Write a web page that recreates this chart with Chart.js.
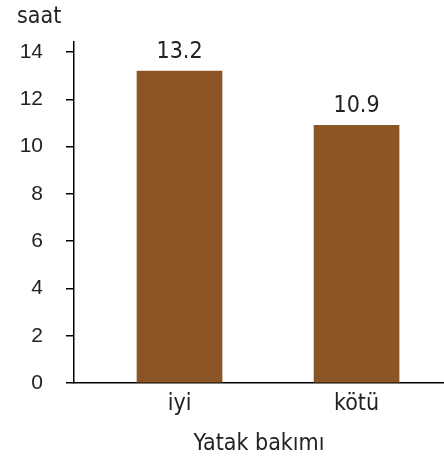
<!DOCTYPE html>
<html><head><meta charset="utf-8">
<script src="https://cdn.jsdelivr.net/npm/chart.js@4"></script>
<style>html,body{margin:0;padding:0;background:#fff}#w{width:444px;height:456px}</style>
</head><body><div id="w"><canvas id="c"></canvas></div>
<script>
const categories = ["iyi", "kötü"];
const values = [13.2, 10.9];
const yTicks = [0, 2, 4, 6, 8, 10, 12, 14];
const yTitle = "saat";
const xTitle = "Yatak bakımı";
const barColor = "#8B5526";
const textFont = '"DejaVu Sans Condensed", "DejaVu Sans"';

const labelsPlugin = {
  id: 'labels',
  afterDatasetsDraw(chart) {
    const ctx = chart.ctx;
    const meta = chart.getDatasetMeta(0);
    ctx.save();
    ctx.font = '23px ' + textFont;
    ctx.fillStyle = '#222';
    ctx.textAlign = 'center';
    ctx.textBaseline = 'alphabetic';
    meta.data.forEach((el, i) => {
      ctx.fillText(values[i].toFixed(1), el.x, el.y - 13);
    });
    ctx.textAlign = 'left';
    ctx.fillText(yTitle, 17, 23);
    ctx.restore();
  }
};

new Chart(document.getElementById('c'), {
  type: 'bar',
  data: {
    datasets: [{
      data: values.map((v, i) => ({x: i, y: v})),
      backgroundColor: barColor,
      barThickness: 85
    }]
  },
  options: {
    responsive: true,
    maintainAspectRatio: false,
    animation: false,
    layout: {padding: {top: 42, right: 0, left: 0, bottom: 0}},
    plugins: {legend: {display: false}, tooltip: {enabled: false}},
    scales: {
      x: {
        type: 'linear',
        min: -0.596,
        max: 1.494,
        offset: false,
        afterBuildTicks(s) { s.ticks = categories.map((c, i) => ({value: i})); },
        afterFit(s) { s.height = 73; },
        ticks: {
          callback: (v) => categories[v] ?? '',
          font: {family: textFont, size: 23},
          color: '#222',
          padding: 7,
          autoSkip: false,
          maxRotation: 0
        },
        grid: {display: false, drawTicks: false},
        border: {display: true, color: '#000', width: 1.5},
        title: {
          display: true, text: xTitle,
          font: {family: textFont, size: 23},
          color: '#222',
          padding: {top: 4, bottom: -2}
        }
      },
      y: {
        min: 0,
        max: 14.43,
        afterBuildTicks(s) { s.ticks = yTicks.map(v => ({value: v})); },
        afterFit(s) { s.width = 74; },
        ticks: {
          font: {family: 'Liberation Sans', size: 21},
          color: '#222',
          padding: 23
        },
        grid: {drawOnChartArea: false, drawTicks: true, tickLength: 8, color: '#000', lineWidth: 1.5},
        border: {display: true, color: '#000', width: 1.5}
      }
    }
  },
  plugins: [labelsPlugin]
});
</script>
</body></html>
